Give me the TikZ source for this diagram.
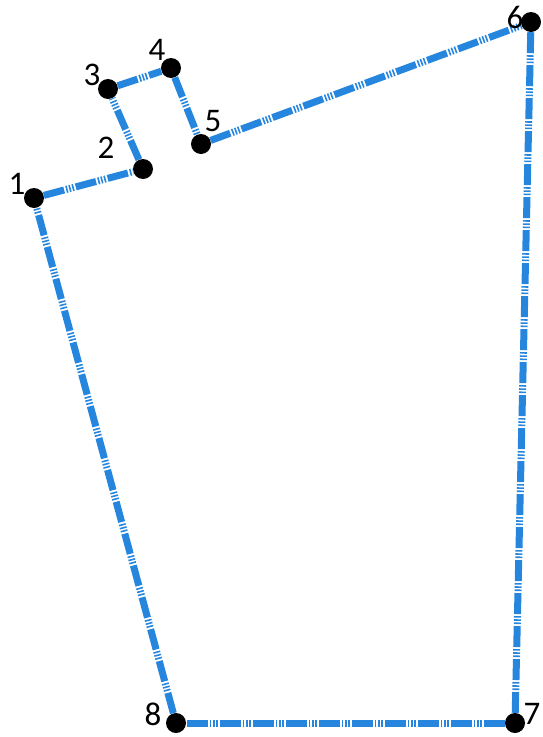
\documentclass[tikz,border=0pt]{standalone}
\usepackage{fontspec}
\setmainfont{Carlito}
\definecolor{plotblue}{RGB}{38,134,222}
\usetikzlibrary{positioning}

\begin{document}
\begin{tikzpicture}[
  x=1pt, y=-1pt,
  corner/.style={circle, fill=black, inner sep=0pt, minimum size=20pt},
  edge/.style={plotblue, line width=7pt,
               dash pattern=on 21pt off 2pt on 1.6pt off 1.6pt on 1.6pt off 1.6pt on 1.6pt off 2pt},
  lbl/.style={font=\fontsize{33}{36}\selectfont, inner sep=0pt}
]
\useasboundingbox (0,0) rectangle (542,737);

\node[corner] (p1) at (34,198) {};
\node[corner] (p2) at (143,169) {};
\node[corner] (p3) at (108,89) {};
\node[corner] (p4) at (171,68) {};
\node[corner] (p5) at (201,144) {};
\node[corner] (p6) at (531,22) {};
\node[corner] (p7) at (515,723) {};
\node[corner] (p8) at (176,723) {};

\draw[edge] (p1) -- (p2);
\draw[edge] (p2) -- (p3);
\draw[edge] (p3) -- (p4);
\draw[edge] (p4) -- (p5);
\draw[edge] (p5) -- (p6);
\draw[edge] (p6) -- (p7);
\draw[edge] (p7) -- (p8);
\draw[edge] (p8) -- (p1);

\node[lbl] (l1) at (17,184) {1};
\node[lbl] (l2) at (106,148) {2};
\node[lbl] (l3) at (92,75) {3};
\node[lbl] (l4) at (157,50) {4};
\node[lbl] (l5) at (213,121) {5};
\node[lbl] (l6) at (515,17) {6};
\node[lbl] (l7) at (532,714) {7};
\node[lbl] (l8) at (153,714) {8};
\end{tikzpicture}
\end{document}
